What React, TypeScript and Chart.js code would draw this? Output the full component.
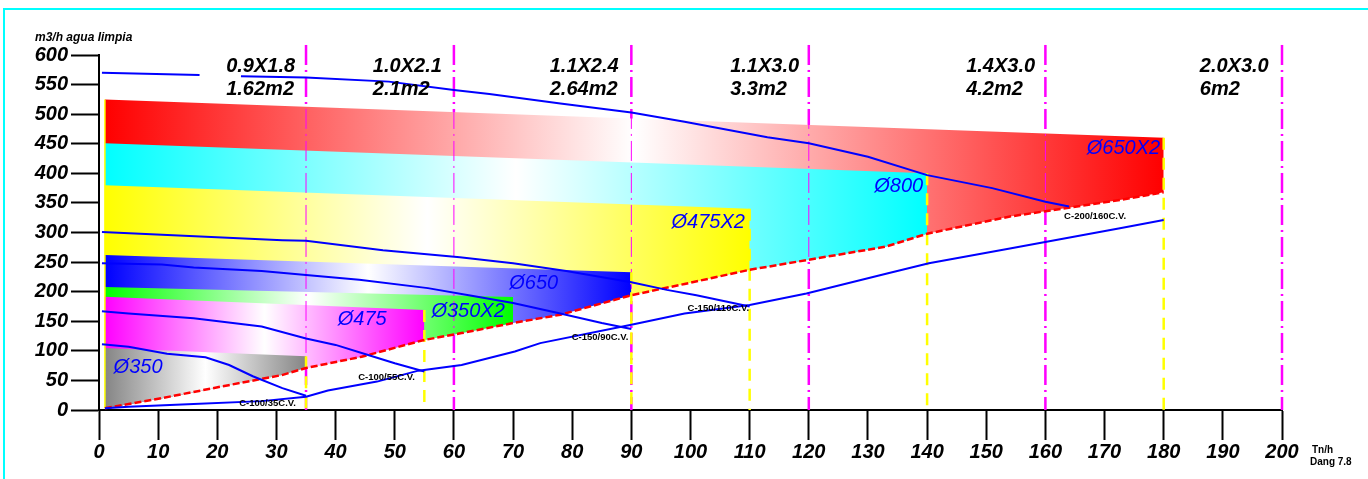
import React, { useEffect, useRef } from 'react';
import { Chart, registerables } from 'chart.js';

Chart.register(...registerables);

type P = [number, number];

// ---------- data ----------
const xMin = 0;
const xMax = 200;
const xStep = 10;
const yMin = 0;
const yMax = 600;
const yStep = 50;

// pump / valve curves (m3/h vs T/h)
const curveC200_160: (P | null)[] = [[0.5, 570], [17, 566], null, [24, 564], [35, 562], [49, 555], [60, 541], [66, 534], [78, 518], [90, 503], [99, 487], [113, 461], [120, 451], [130, 428], [140, 397], [151, 375], [160, 352], [164, 344]];
const curveC150_110: P[] = [[0.5, 301], [31, 287], [35, 286], [48, 270], [61, 258], [70, 248], [79, 235], [90, 216], [96, 203], [101, 194], [110, 175]];
const curveC150_90: P[] = [[0.5, 248], [10.6, 246], [16, 241], [27.5, 235], [35, 228], [44, 220], [55.6, 206], [63, 193], [70, 181], [78, 163], [85, 147], [90, 137]];
const curveC100_55: P[] = [[0.5, 167], [5, 163], [16, 155], [27.5, 141], [35, 121], [40, 110], [45.5, 93], [50, 79], [55, 65]];
const curveC100_35: P[] = [[0.5, 111], [5, 107], [11.5, 95], [18, 89], [22, 76], [26, 57], [31, 37], [35, 24]];
const systemCurve: P[] = [[1, 3], [5, 5.6], [16, 10], [27.5, 15], [35, 22.5], [38.7, 33], [47, 48], [54, 66.5], [61.3, 76], [70.3, 99], [74.6, 113], [90, 144], [99, 163], [110, 177.5], [119.6, 197], [133.4, 231], [140.3, 248], [154, 273], [172.6, 307], [180, 321]];
// lower limit (red dashed)
const limitLine: P[] = [[1, 3], [10.6, 20], [21.9, 42], [30.9, 59], [35, 71], [44.4, 90], [54.8, 118], [61.3, 130], [70, 147], [78, 161], [90, 194], [99, 213], [110, 237], [120, 254], [133, 276], [140, 298], [154, 327], [172.6, 355], [180, 368]];

// pipe regions (top edge from left x to right x)
const regionNames = ['Ø650X2', 'Ø800', 'Ø475X2', 'Ø650', 'Ø350X2', 'Ø475', 'Ø350'];
const regionLeftX = 1;
const regionRightX = [180, 140, 110, 90, 70, 55, 35];
const regionTopLeft = [525, 451, 380, 262, 208, 191.5, 105];
const regionTopRight = [460, 400, 340, 233, 191, 169, 91];

// vertical marks
const sectionX = [35, 60, 90, 120, 160, 200];
const boundaryX = [35, 55, 90, 110, 140, 180];
const boundaryTop = [91, 169, 233, 340, 400, 460];

// headers
const headerSize = ['0.9X1.8', '1.0X2.1', '1.1X2.4', '1.1X3.0', '1.4X3.0', '2.0X3.0'];
const headerArea = ['1.62m2', '2.1m2', '2.64m2', '3.3m2', '4.2m2', '6m2'];
const headerX = [21.5, 46.3, 76.2, 106.7, 146.6, 186.1];

// curve labels
const curveNames = ['C-100/35C.V.', 'C-100/55C.V.', 'C-150/90C.V.', 'C-150/110C.V.', 'C-200/160C.V.'];
const curveNameX = [28.5, 48.6, 84.7, 104.7, 168.4];
const curveNameY = [11.8, 55.8, 123, 172.4, 328];

// region label anchors
const regionLabelX = [173.2, 135.2, 103, 73.5, 62.4, 44.5, 6.6];
const regionLabelY = [442, 377.7, 317, 214.6, 167, 153, 71.8];

const regionColors = ['#ff0000', '#00ffff', '#ffff00', '#0000ff', '#00ff00', '#ff00ff', '#858585'];

// ---------- helpers ----------
const toPts = (arr: (P | null)[]) =>
  arr.map((p, i) => (p ? { x: p[0], y: p[1] } : { x: (arr[i - 1] as P)[0] + 1, y: null }));

const FONT = '"Liberation Sans", Arial, sans-serif';

const labelsPlugin = {
  id: 'chartLabels',
  afterDatasetsDraw(chart: any) {
    const { ctx, chartArea } = chart;
    const xs = chart.scales.x;
    const ys = chart.scales.y;
    ctx.save();
    // headers
    ctx.fillStyle = '#000';
    ctx.font = `italic bold 20px ${FONT}`;
    ctx.textAlign = 'left';
    ctx.textBaseline = 'middle';
    headerSize.forEach((t, i) => {
      const px = xs.getPixelForValue(headerX[i]);
      ctx.fillText(t, px, ys.getPixelForValue(581));
      ctx.fillText(headerArea[i], px, ys.getPixelForValue(541));
    });
    // region labels
    ctx.fillStyle = '#0000ff';
    ctx.font = `italic 20px ${FONT}`;
    ctx.textAlign = 'center';
    regionNames.forEach((t, i) => {
      ctx.fillText(t, xs.getPixelForValue(regionLabelX[i]), ys.getPixelForValue(regionLabelY[i]));
    });
    // curve labels
    ctx.fillStyle = '#000';
    ctx.font = `bold 9.5px ${FONT}`;
    curveNames.forEach((t, i) => {
      ctx.fillText(t, xs.getPixelForValue(curveNameX[i]), ys.getPixelForValue(curveNameY[i]));
    });
    // axis units
    ctx.textAlign = 'left';
    ctx.font = `italic bold 12px ${FONT}`;
    ctx.fillText('m3/h agua limpia', chartArea.left - 64, chartArea.top - 17);
    ctx.font = `bold 10px ${FONT}`;
    ctx.fillText('Tn/h', chartArea.right + 30, chartArea.bottom + 40);
    ctx.fillText('Dang 7.8', chartArea.right + 28, chartArea.bottom + 52);
    ctx.restore();
  },
};

function gradientFor(chart: any, x0: number, x1: number, color: string) {
  const xs = chart.scales && chart.scales.x;
  if (!xs || !chart.chartArea) return color;
  const p0 = xs.getPixelForValue(x0);
  const p1 = xs.getPixelForValue(x1);
  const g = chart.ctx.createLinearGradient(p0, 0, p1, 0);
  g.addColorStop(0, color);
  g.addColorStop(0.5, '#ffffff');
  g.addColorStop(1, color);
  return g;
}

export default function App() {
  const canvasRef = useRef<HTMLCanvasElement | null>(null);

  useEffect(() => {
    document.body.style.margin = '0';
    const canvas = canvasRef.current;
    if (!canvas) return;

    const datasets: any[] = [];
    const base = { pointRadius: 0, pointHoverRadius: 0, tension: 0, fill: false };

    // blue curves (top layer)
    [curveC200_160, curveC150_110, curveC150_90, curveC100_55, curveC100_35, systemCurve].forEach((c) => {
      datasets.push({ ...base, data: toPts(c), borderColor: '#0000ff', borderWidth: 2, spanGaps: false });
    });
    // red limit line
    const redIndex = datasets.length;
    datasets.push({ ...base, data: toPts(limitLine), borderColor: '#ff0000', borderWidth: 2.5, borderDash: [7, 3] });
    // yellow dashed verticals
    boundaryX.forEach((x, i) => {
      datasets.push({ ...base, data: [{ x, y: boundaryTop[i] }, { x, y: 0 }], borderColor: '#ffff00', borderWidth: 2.5, borderDash: [12, 8] });
    });
    // magenta thin on top of fills
    sectionX.forEach((x) => {
      datasets.push({ ...base, data: [{ x, y: 617 }, { x, y: 0 }], borderColor: '#ff00ff', borderWidth: 1, borderDash: [20, 5, 2, 5], clip: false });
    });
    // yellow left edge
    datasets.push({ ...base, data: [{ x: regionLeftX, y: regionTopLeft[0] }, { x: regionLeftX, y: 3 }], borderColor: '#ffff00', borderWidth: 1.5 });
    // regions: gray (top) ... red (bottom)
    for (let i = regionNames.length - 1; i >= 0; i--) {
      const x1 = regionRightX[i];
      const color = regionColors[i];
      datasets.push({
        ...base,
        data: [{ x: regionLeftX, y: regionTopLeft[i] }, { x: x1, y: regionTopRight[i] }],
        borderColor: 'rgba(0,0,0,0)',
        borderWidth: 0,
        fill: redIndex,
        backgroundColor: (c: any) => gradientFor(c.chart, regionLeftX, x1, color),
      });
    }
    // magenta thick behind everything
    sectionX.forEach((x) => {
      datasets.push({ ...base, data: [{ x, y: 617 }, { x, y: 0 }], borderColor: '#ff00ff', borderWidth: 2.5, borderDash: [20, 5, 2, 5], clip: false });
    });

    const tickFont = { family: FONT, size: 20, style: 'italic' as const, weight: 'bold' as const };

    const chart = new Chart(canvas, {
      type: 'line',
      data: { datasets },
      plugins: [labelsPlugin],
      options: {
        responsive: false,
        animation: false,
        devicePixelRatio: 1,
        layout: { padding: { top: 55, right: 86, left: 0, bottom: 0 } },
        plugins: {
          legend: { display: false },
          tooltip: { enabled: false },
          title: { display: false },
        },
        scales: {
          x: {
            type: 'linear',
            min: xMin,
            max: xMax,
            ticks: { stepSize: xStep, autoSkip: false, maxRotation: 0, padding: 0, color: '#000', font: tickFont },
            grid: { drawOnChartArea: false, drawTicks: true, tickLength: 30, tickWidth: 2, tickColor: '#000' },
            border: { color: '#000', width: 2 },
            afterFit: (s: any) => { s.height = 69; },
          },
          y: {
            type: 'linear',
            min: yMin,
            max: yMax,
            ticks: { stepSize: yStep, padding: 3, color: '#000', font: tickFont },
            grid: { drawOnChartArea: false, drawTicks: true, tickLength: 28, tickWidth: 2, tickColor: '#000' },
            border: { color: '#000', width: 2 },
            afterFit: (s: any) => { s.width = 99; },
          },
        },
      } as any,
    });
    return () => chart.destroy();
  }, []);

  return (
    <div style={{ position: 'relative', width: 1368, height: 479, overflow: 'hidden', background: '#fff' }}>
      <canvas ref={canvasRef} width={1368} height={479} style={{ display: 'block', width: 1368, height: 479 }} />
      <div
        style={{
          position: 'absolute',
          left: 3,
          top: 8,
          right: 0,
          bottom: 0,
          borderTop: '2px solid #00ffff',
          borderLeft: '2px solid #00ffff',
          pointerEvents: 'none',
        }}
      />
    </div>
  );
}
